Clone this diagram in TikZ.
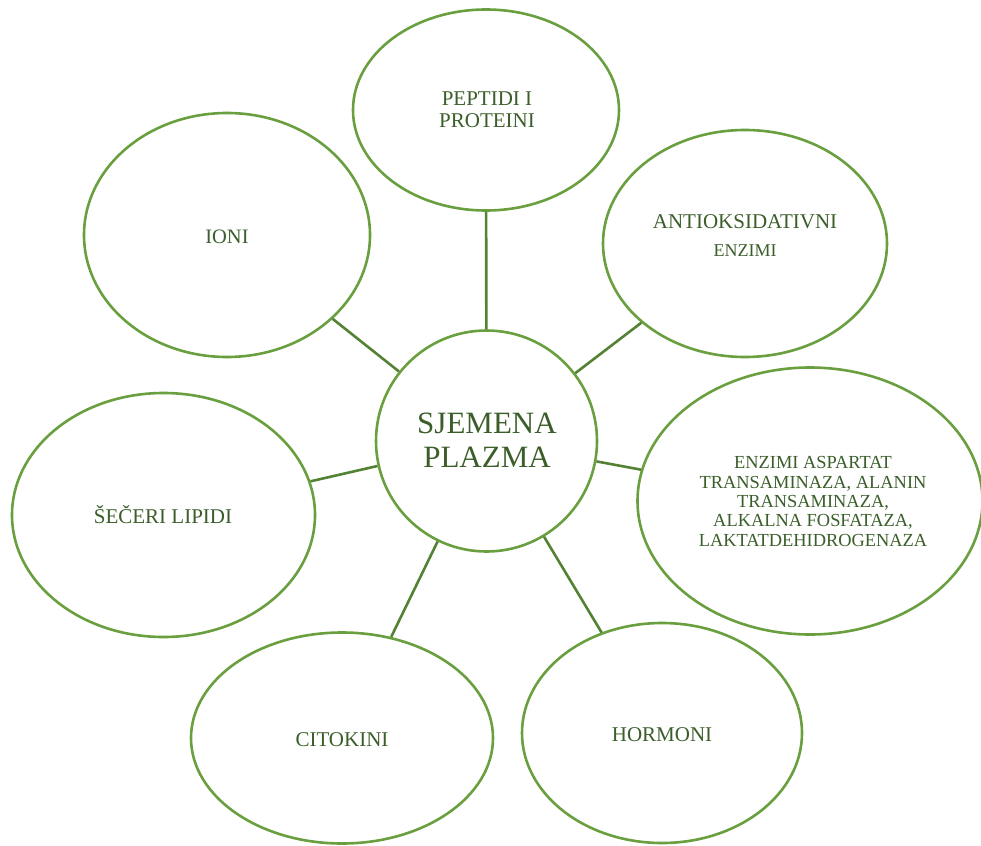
\documentclass[tikz,border=0pt]{standalone}
\usepackage{fontspec}
\setmainfont{Liberation Serif}
\usetikzlibrary{shapes.geometric}
\definecolor{ringgreen}{HTML}{6A9F3F}
\definecolor{linkgreen}{HTML}{548235}
\definecolor{textgreen}{HTML}{3B5E2A}
\tikzset{
  bubble/.style={ellipse, draw=ringgreen, line width=2.6pt, inner sep=0pt, fill=white},
  link/.style={draw=linkgreen, line width=2.6pt},
  lbl/.style={text=textgreen, anchor=base, align=center, inner sep=0pt, font=\fontsize{21}{22}\selectfont}
}
\begin{document}
\begin{tikzpicture}[x=1pt,y=-1pt]
\useasboundingbox (0,0) rectangle (981,845);
% ellipses
\node[bubble, minimum width=221pt, minimum height=221pt] (c) at (486.5,441) {};
\node[bubble, minimum width=266pt, minimum height=201pt] (pep) at (486,110) {};
\node[bubble, minimum width=286pt, minimum height=244pt] (ion) at (227,235) {};
\node[bubble, minimum width=284pt, minimum height=227pt] (ant) at (745,243.5) {};
\node[bubble, minimum width=345pt, minimum height=267pt] (enz) at (810,501) {};
\node[bubble, minimum width=303pt, minimum height=244pt] (sec) at (163.5,515) {};
\node[bubble, minimum width=302pt, minimum height=211pt] (cit) at (342,738) {};
\node[bubble, minimum width=280pt, minimum height=220pt] (hor) at (662,733) {};
% connectors
\draw[link] (c) -- (pep);
\draw[link] (c) -- (ion);
\draw[link] (c) -- (ant);
\draw[link] (c) -- (enz);
\draw[link] (c) -- (sec);
\draw[link] (c) -- (cit);
\draw[link] (c) -- (hor);
% labels (base anchor = baseline of last line)
\node[lbl, font=\fontsize{31}{34}\selectfont] (tc) at (487,467) {SJEMENA\\PLAZMA};
\node[lbl] (tpep) at (487,128) {PEPTIDI I\\PROTEINI};
\node[lbl, font=\fontsize{20.5}{22}\selectfont] (tion) at (227,243) {IONI};
\node[lbl, font=\fontsize{21}{28}\selectfont] (tant) at (745,256) {ANTIOKSIDATIVNI\\{\fontsize{18}{28}\selectfont ENZIMI}};
\node[lbl, font=\fontsize{18.4}{19.3}\selectfont] (tenz) at (813,546) {ENZIMI ASPARTAT\\TRANSAMINAZA, ALANIN\\TRANSAMINAZA,\\ALKALNA FOSFATAZA,\\LAKTATDEHIDROGENAZA};
\node[lbl] (tsec) at (163,523) {ŠEČERI LIPIDI};
\node[lbl] (tcit) at (342,746) {CITOKINI};
\node[lbl] (thor) at (662,741) {HORMONI};
\end{tikzpicture}
\end{document}
